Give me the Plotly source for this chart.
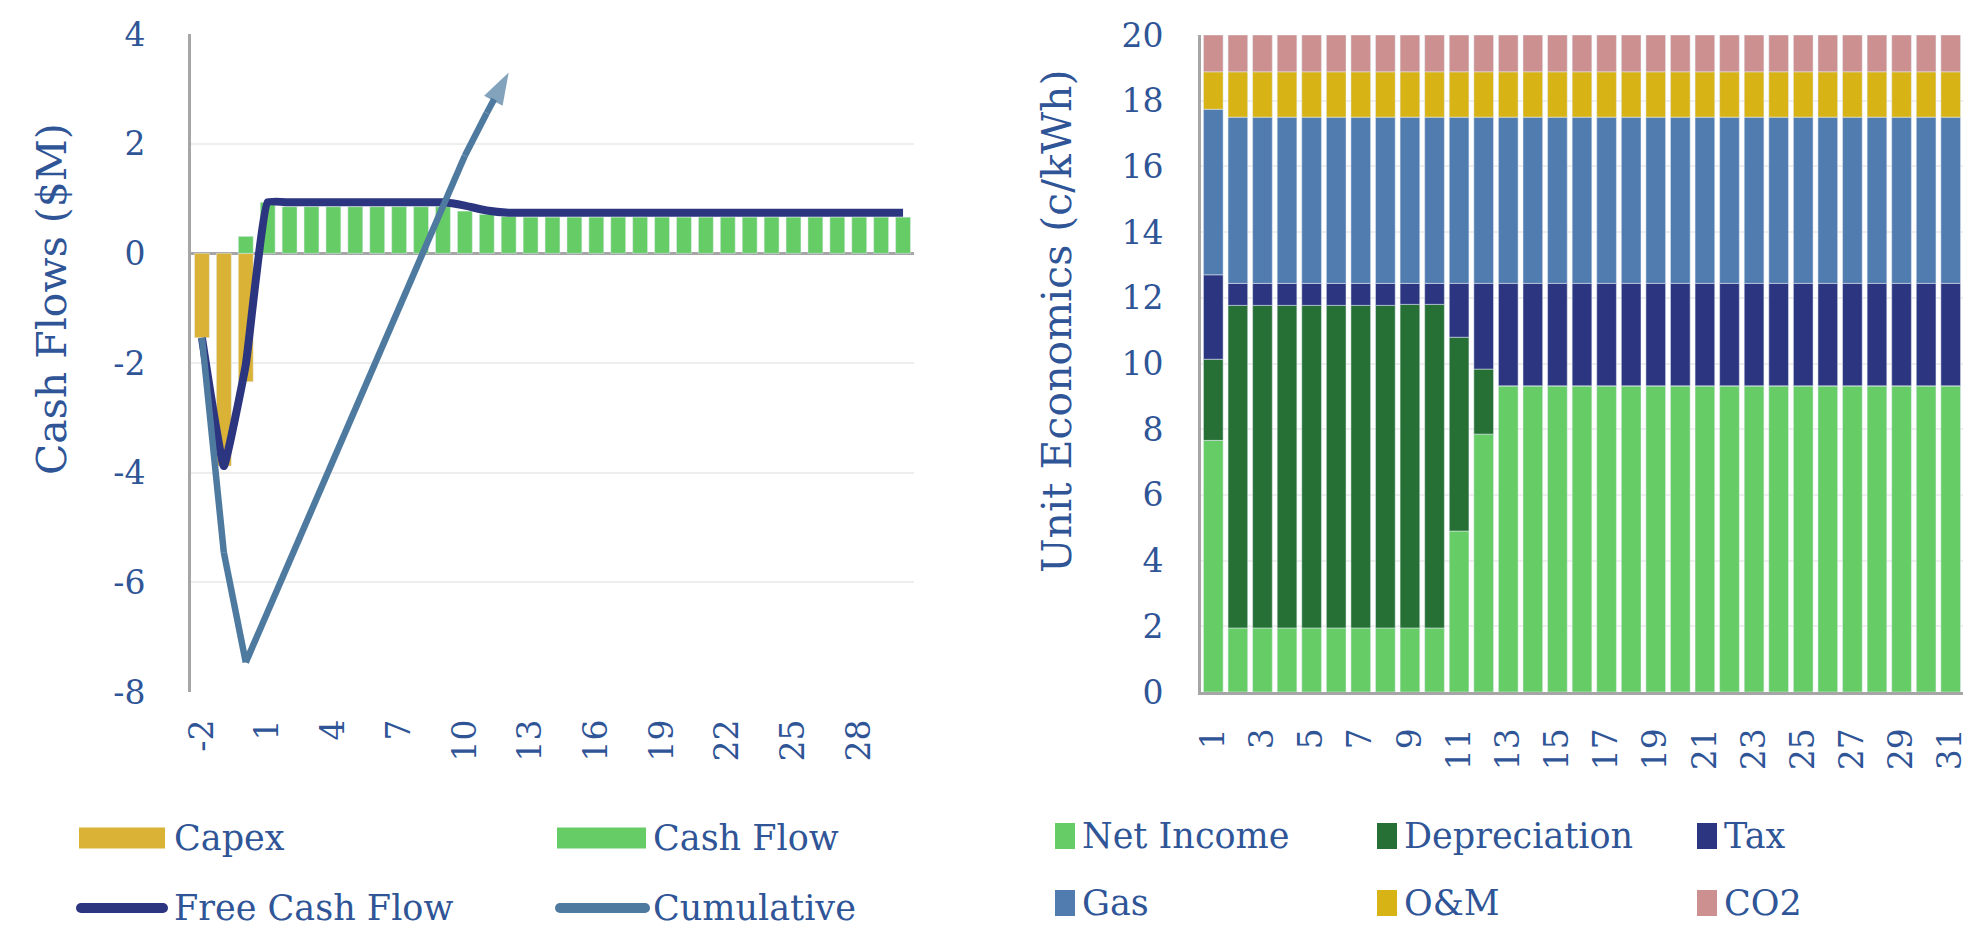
import plotly.graph_objects as go

# ---------------- data ----------------
years = list(range(-2, 31))
capex = [-1.54, -3.88, -2.34] + [None] * 30
cash_flow = [None, None, 0.31, 0.93] + [0.85] * 8 + [0.77, 0.71, 0.67] + [0.66] * 18
fcf = [-1.54, -3.88, -2.03, 0.93] + [0.93] * 8 + [0.87, 0.78, 0.74] + [0.74] * 18
cum_years = list(range(-2, 13))
cumulative = [-1.54, -5.46, -7.46, -6.53, -5.60, -4.67, -3.74, -2.81, -1.88, -0.95,
              -0.02, 0.91, 1.78, 2.56, 3.30]
left_ticks = list(range(-2, 29, 3))
left_yticks = list(range(-8, 5, 2))

units = list(range(1, 32))
net_income = [7.66] + [1.95] * 9 + [4.90, 7.85] + [9.32] * 19
depreciation = [2.47] + [9.82] * 7 + [9.85, 9.85] + [5.90, 1.98] + [0.0] * 19
tax = [2.57] + [0.67] * 7 + [0.64, 0.64] + [1.64, 2.61] + [3.12] * 19
gas = [5.04] + [5.06] * 30
om = [1.14] + [1.38] * 30
co2 = [1.12] * 31
right_ticks = list(range(1, 32, 2))
right_yticks = list(range(0, 21, 2))

# ---------------- style ----------------
FONT = "DejaVu Serif, Liberation Serif, serif"
TXT = "#2F5597"
C_CAPEX = "#DAB236"
C_GREEN = "#66CC66"
C_DEP = "#267035"
C_TAX = "#2C3580"
C_GAS = "#507CB0"
C_OM = "#D8B315"
C_CO2 = "#CC9090"
C_FCF = "#2C3580"
C_CUM = "#4F7AA0"
GRID = "#EEEEEE"
AXIS = "#A6A6A6"

W, H = 1986, 950

fig = go.Figure()

# left chart
fig.add_trace(go.Bar(x=years, y=capex, name="Capex", marker_color=C_CAPEX, width=0.68,
                     xaxis="x", yaxis="y", showlegend=False))
fig.add_trace(go.Bar(x=years, y=cash_flow, name="Cash Flow", marker_color=C_GREEN, width=0.68,
                     xaxis="x", yaxis="y", showlegend=False))
fig.add_trace(go.Scatter(x=years, y=fcf, name="Free Cash Flow", mode="lines",
                         line=dict(color=C_FCF, width=8, shape="spline", smoothing=0.3),
                         xaxis="x", yaxis="y", showlegend=False))
sizes = [0] * (len(cum_years) - 1) + [34]
symbols = ["circle"] * (len(cum_years) - 1) + ["arrow"]
fig.add_trace(go.Scatter(x=cum_years, y=cumulative, name="Cumulative", mode="lines+markers",
                         line=dict(color=C_CUM, width=6.5),
                         marker=dict(size=sizes, symbol=symbols, color=C_CUM, angleref="previous",
                                     line=dict(width=0)),
                         xaxis="x", yaxis="y", showlegend=False))

# right chart
for name, vals, col in [("Net Income", net_income, C_GREEN), ("Depreciation", depreciation, C_DEP),
                        ("Tax", tax, C_TAX), ("Gas", gas, C_GAS), ("O&M", om, C_OM),
                        ("CO2", co2, C_CO2)]:
    fig.add_trace(go.Bar(x=units, y=vals, name=name, marker_color=col, width=0.8,
                         xaxis="x2", yaxis="y2", showlegend=False))

def px(x):
    return x / W

def py(y):
    return 1 - y / H

tickfont = dict(family=FONT, size=33, color=TXT)

fig.update_layout(
    width=W, height=H, autosize=False,
    margin=dict(l=0, r=0, t=0, b=0, pad=0),
    paper_bgcolor="white", plot_bgcolor="white",
    barmode="relative",
    font=dict(family=FONT, color=TXT),
    xaxis=dict(domain=[px(191), px(914)], range=[-2.5, 30.5], tickmode="array",
               tickvals=left_ticks, ticktext=[str(v) for v in left_ticks], tickangle=-90,
               tickfont=tickfont, showgrid=False, zeroline=False, showline=False,
               ticks="", ticklabelstandoff=20, anchor="y", automargin=False),
    yaxis=dict(domain=[py(692), py(34)], range=[-8, 4], tickmode="array",
               tickvals=left_yticks, ticktext=[str(v) for v in left_yticks], tickfont=tickfont,
               showgrid=True, gridcolor=GRID, gridwidth=2,
               zeroline=True, zerolinecolor=AXIS, zerolinewidth=3,
               showline=True, linecolor=AXIS, linewidth=3, ticks="",
               ticklabelstandoff=36, anchor="x", automargin=False),
    xaxis2=dict(domain=[px(1201), px(1963)], range=[0.5, 31.5], tickmode="array",
                tickvals=right_ticks, ticktext=[str(v) for v in right_ticks], tickangle=-90,
                tickfont=tickfont, showgrid=False, zeroline=False, showline=True,
                linecolor=AXIS, linewidth=3, ticks="", ticklabelstandoff=20, anchor="y2",
                automargin=False),
    yaxis2=dict(domain=[py(692), py(35)], range=[0, 20], tickmode="array",
                tickvals=right_yticks, ticktext=[str(v) for v in right_yticks], tickfont=tickfont,
                showgrid=True, gridcolor=GRID, gridwidth=2, zeroline=False,
                showline=True, linecolor=AXIS, linewidth=3, ticks="",
                ticklabelstandoff=28, anchor="x2", automargin=False),
)

# ---------------- axis titles & custom legends ----------------
shapes = []
annotations = []
LEG_FONT = dict(family=FONT, size=35, color=TXT)

annotations.append(dict(x=px(52), y=py(299), xref="paper", yref="paper", text="Cash Flows ($M)",
                        textangle=-90, showarrow=False, xanchor="center", yanchor="middle",
                        font=dict(family=FONT, size=41, color=TXT)))
annotations.append(dict(x=px(1057), y=py(322), xref="paper", yref="paper",
                        text="Unit Economics (c/kWh)", textangle=-90, showarrow=False,
                        xanchor="center", yanchor="middle",
                        font=dict(family=FONT, size=41, color=TXT)))

def rect(x0, x1, yc, h, color):
    shapes.append(dict(type="rect", xref="paper", yref="paper", x0=px(x0), x1=px(x1),
                       y0=py(yc + h / 2), y1=py(yc - h / 2), fillcolor=color,
                       line=dict(width=0), layer="above"))

def linesym(x0, x1, yc, color, w=10):
    shapes.append(dict(type="line", xref="paper", yref="paper", x0=px(x0), x1=px(x1),
                       y0=py(yc), y1=py(yc), line=dict(color=color, width=w), layer="above"))
    for xx in (x0, x1):
        shapes.append(dict(type="circle", xref="paper", yref="paper", xsizemode="pixel",
                           ysizemode="pixel", xanchor=px(xx), yanchor=py(yc),
                           x0=-w / 2, x1=w / 2, y0=-w / 2, y1=w / 2,
                           fillcolor=color, line=dict(width=0), layer="above"))

def label(x, yc, text):
    annotations.append(dict(x=px(x), y=py(yc), xref="paper", yref="paper", text=text,
                            showarrow=False, xanchor="left", yanchor="middle", font=LEG_FONT))

# left legend
rect(79, 165, 838, 21, C_CAPEX); label(172, 838, "Capex")
rect(557, 646, 838, 21, C_GREEN); label(651, 838, "Cash Flow")
linesym(81, 163, 908, C_FCF); label(172, 908, "Free Cash Flow")
linesym(560, 645, 908, C_CUM); label(651, 908, "Cumulative")

# right legend
for (xm, yc, col, txt) in [(1055, 836, C_GREEN, "Net Income"), (1377, 836, C_DEP, "Depreciation"),
                           (1697, 836, C_TAX, "Tax"), (1055, 903, C_GAS, "Gas"),
                           (1377, 903, C_OM, "O&M"), (1697, 903, C_CO2, "CO2")]:
    rect(xm, xm + 20, yc, 26, col)
    label(xm + 25, yc, txt)

fig.update_layout(shapes=shapes, annotations=annotations)

fig.write_html("out.html")
